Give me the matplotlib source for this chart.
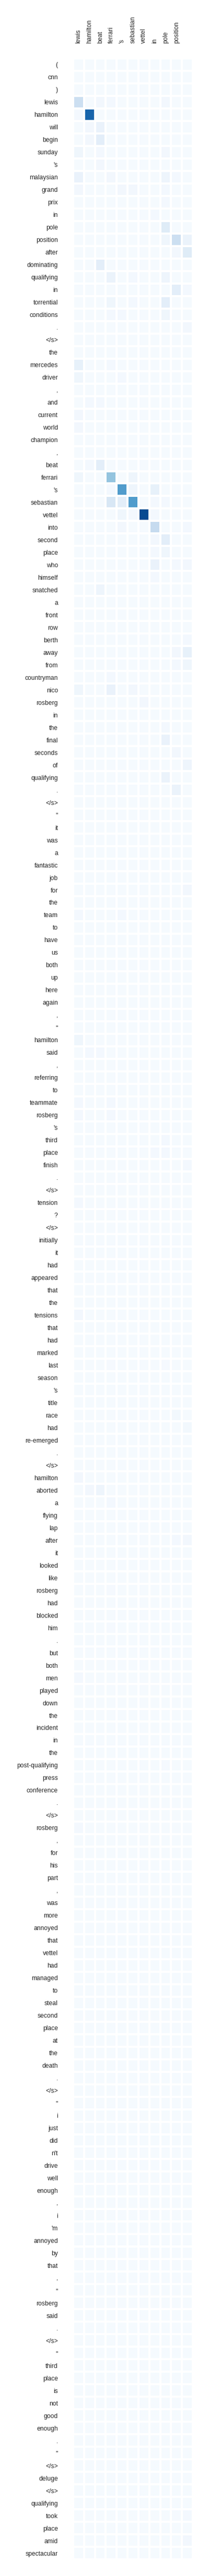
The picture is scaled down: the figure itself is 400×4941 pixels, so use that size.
import numpy as np
import matplotlib
matplotlib.use('Agg')
import matplotlib.pyplot as plt

# summary tokens along the top (the last column carries no label)
summary_tokens = ['lewis', 'hamilton', 'beat', 'ferrari', "'s", 'sebastian',
                  'vettel', 'in', 'pole', 'position', '']

# article tokens down the side
article_tokens = [
    '(', 'cnn', ')', 'lewis', 'hamilton', 'will', 'begin', 'sunday', "'s",
    'malaysian', 'grand', 'prix', 'in', 'pole', 'position', 'after',
    'dominating', 'qualifying', 'in', 'torrential', 'conditions', '.', '</s>',
    'the', 'mercedes', 'driver', ',', 'and', 'current', 'world', 'champion',
    ',', 'beat', 'ferrari', "'s", 'sebastian', 'vettel', 'into', 'second',
    'place', 'who', 'himself', 'snatched', 'a', 'front', 'row', 'berth',
    'away', 'from', 'countryman', 'nico', 'rosberg', 'in', 'the', 'final',
    'seconds', 'of', 'qualifying', '.', '</s>', '"', 'it', 'was', 'a',
    'fantastic', 'job', 'for', 'the', 'team', 'to', 'have', 'us', 'both',
    'up', 'here', 'again', ',', '"', 'hamilton', 'said', ',', 'referring',
    'to', 'teammate', 'rosberg', "'s", 'third', 'place', 'finish', '.',
    '</s>', 'tension', '?', '</s>', 'initially', 'it', 'had', 'appeared',
    'that', 'the', 'tensions', 'that', 'had', 'marked', 'last', 'season',
    "'s", 'title', 'race', 'had', 're-emerged', '.', '</s>', 'hamilton',
    'aborted', 'a', 'flying', 'lap', 'after', 'it', 'looked', 'like',
    'rosberg', 'had', 'blocked', 'him', '.', 'but', 'both', 'men', 'played',
    'down', 'the', 'incident', 'in', 'the', 'post-qualifying', 'press',
    'conference', '.', '</s>', 'rosberg', ',', 'for', 'his', 'part', ',',
    'was', 'more', 'annoyed', 'that', 'vettel', 'had', 'managed', 'to',
    'steal', 'second', 'place', 'at', 'the', 'death', '.', '</s>', '"', 'i',
    'just', 'did', "n't", 'drive', 'well', 'enough', ',', 'i', "'m",
    'annoyed', 'by', 'that', ',', '"', 'rosberg', 'said', '.', '</s>', '"',
    'third', 'place', 'is', 'not', 'good', 'enough', '.', '"', '</s>',
    'deluge', '</s>', 'qualifying', 'took', 'place', 'amid', 'spectacular',
]

# faint attention that most cells show
background_weight = 0.008

# attention weights: (article row, summary column, weight)
attention_weights = [
    (3, 0, 0.22), (3, 2, 0.03), (3, 3, 0.02), (3, 8, 0.03),
    (4, 0, 0.02), (4, 1, 0.80),
    (5, 1, 0.03), (5, 2, 0.07),
    (6, 1, 0.03), (6, 2, 0.10),
    (7, 0, 0.04), (7, 2, 0.02), (7, 8, 0.03),
    (8, 2, 0.03),
    (9, 0, 0.07), (9, 3, 0.03), (9, 8, 0.05), (9, 9, 0.02),
    (10, 0, 0.03), (10, 4, 0.03), (10, 5, 0.03), (10, 8, 0.02),
    (11, 8, 0.02),
    (12, 7, 0.02),
    (13, 8, 0.12),
    (14, 8, 0.04), (14, 9, 0.22), (14, 10, 0.06),
    (15, 9, 0.03), (15, 10, 0.12),
    (16, 2, 0.10),
    (17, 3, 0.06), (17, 5, 0.02), (17, 8, 0.05),
    (18, 9, 0.10), (18, 10, 0.02),
    (19, 3, 0.04), (19, 5, 0.02), (19, 8, 0.10),
    (20, 3, 0.02), (20, 4, 0.02), (20, 8, 0.04),
    (21, 10, 0.03),
    (24, 0, 0.08), (24, 3, 0.02),
    (25, 0, 0.04), (25, 4, 0.02),
    (27, 1, 0.02), (27, 2, 0.02),
    (28, 0, 0.03),
    (29, 0, 0.03),
    (32, 1, 0.02), (32, 2, 0.10),
    (33, 0, 0.04), (33, 3, 0.40), (33, 5, 0.05),
    (34, 3, 0.02), (34, 4, 0.58), (34, 5, 0.05), (34, 7, 0.08),
    (35, 3, 0.16), (35, 4, 0.10), (35, 5, 0.58), (35, 7, 0.02), (35, 8, 0.02),
    (36, 4, 0.04), (36, 5, 0.02), (36, 6, 0.90), (36, 7, 0.02),
    (37, 4, 0.03), (37, 7, 0.25), (37, 10, 0.02),
    (38, 7, 0.03), (38, 8, 0.10),
    (39, 7, 0.02), (39, 8, 0.04),
    (40, 7, 0.07), (40, 9, 0.02), (40, 10, 0.03),
    (41, 7, 0.02),
    (42, 2, 0.05),
    (46, 10, 0.02),
    (47, 9, 0.03), (47, 10, 0.08),
    (48, 9, 0.02), (48, 10, 0.04),
    (49, 3, 0.02),
    (50, 0, 0.04), (50, 3, 0.07), (50, 5, 0.03),
    (51, 6, 0.03),
    (53, 8, 0.02),
    (54, 8, 0.07),
    (55, 9, 0.03),
    (56, 10, 0.05),
    (57, 8, 0.06),
    (58, 9, 0.06),
    (66, 10, 0.03),
    (68, 0, 0.02), (68, 4, 0.02),
    (78, 0, 0.04),
    (79, 1, 0.02), (79, 2, 0.02),
    (83, 0, 0.02), (83, 3, 0.02),
    (84, 0, 0.02), (84, 3, 0.02),
    (86, 8, 0.02),
    (87, 7, 0.02), (87, 8, 0.02),
    (88, 10, 0.02),
    (91, 0, 0.02),
    (100, 0, 0.03),
    (104, 3, 0.015), (104, 8, 0.015),
    (108, 9, 0.025),
    (109, 10, 0.025),
    (113, 0, 0.03),
    (114, 1, 0.03), (114, 2, 0.05),
    (115, 3, 0.02),
    (118, 9, 0.02), (118, 10, 0.03),
    (122, 3, 0.015),
    (125, 3, 0.015),
    (129, 0, 0.02),
    (136, 8, 0.015),
    (141, 0, 0.02),
    (196, 9, 0.015), (196, 10, 0.02),
    (198, 10, 0.03),
]


def build_matrix():
    attn = np.full((len(article_tokens), len(summary_tokens)), background_weight)
    for row, col, weight in attention_weights:
        attn[row, col] = weight
    return attn


def plot_attention(attn):
    fig = plt.figure(figsize=(4, 49.41), dpi=100)
    height = 4941.0
    # axes placed to match the reference pixel box
    ax = fig.add_axes([140 / 400, 1 - 4909 / height, 229 / 400, 4797 / height])

    ax.pcolormesh(attn, cmap='Blues', vmin=0, vmax=1,
                  edgecolors='white', linewidth=1.5)
    ax.set_xlim(0, attn.shape[1])
    ax.set_ylim(attn.shape[0], 0)

    ax.set_xticks(np.arange(attn.shape[1]) + 0.5)
    ax.set_xticklabels(summary_tokens, rotation=90)
    ax.set_yticks(np.arange(attn.shape[0]) + 0.5)
    ax.set_yticklabels(article_tokens)

    ax.xaxis.tick_top()
    ax.tick_params(length=0, pad=21, labelsize=8.7, labelcolor='#262626')
    for spine in ax.spines.values():
        spine.set_visible(False)

    fig.savefig('out.png', dpi=100)


if __name__ == "__main__":
    plt.rcParams['font.family'] = ['Liberation Sans', 'DejaVu Sans']
    plot_attention(build_matrix())
